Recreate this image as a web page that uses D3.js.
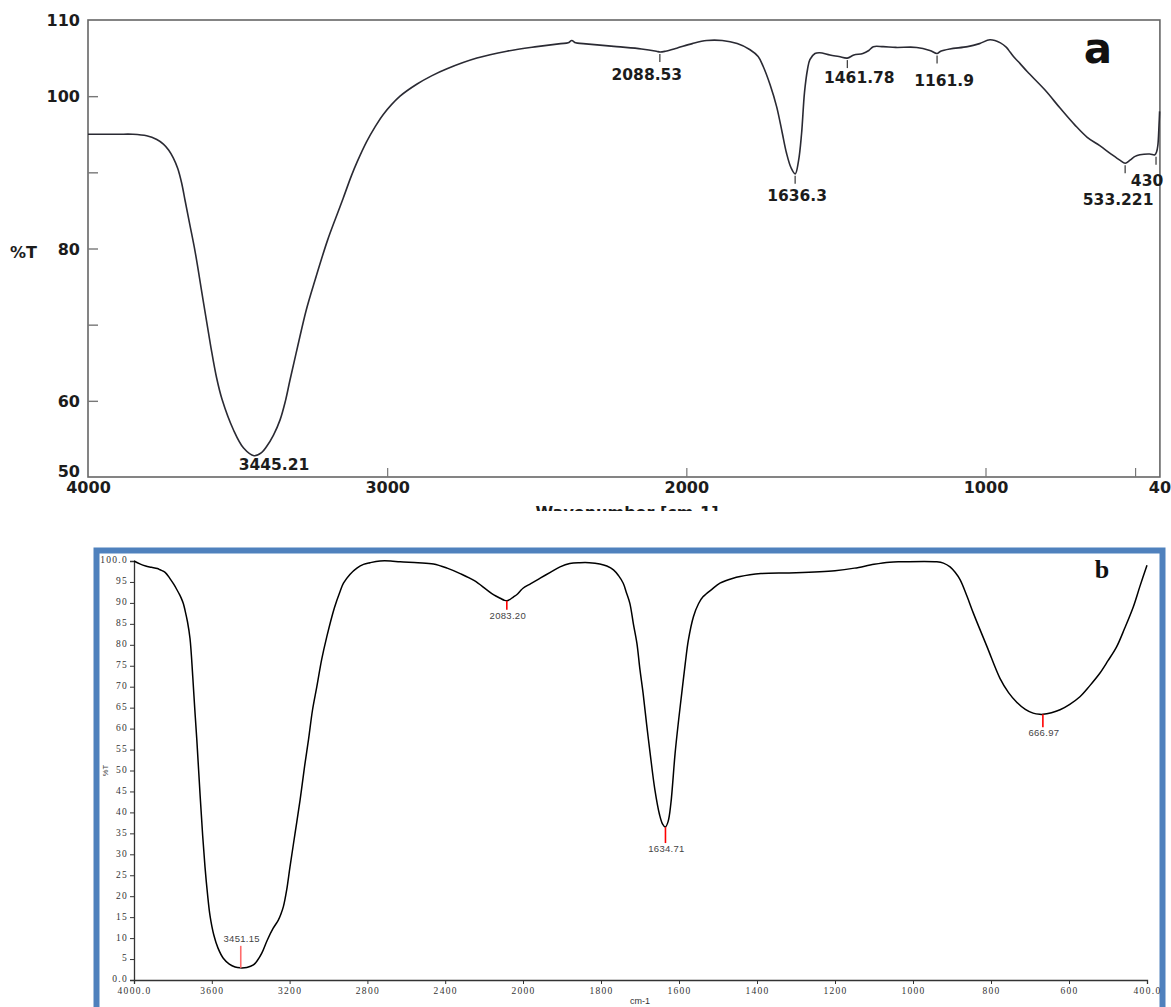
<!DOCTYPE html>
<html>
<head>
<meta charset="utf-8">
<script src="https://cdn.jsdelivr.net/npm/d3@7"></script>
<style>
  body { margin: 0; background: #fff; }
  svg { display: block; }
</style>
</head>
<body>
<svg id="chart"></svg>
<script>
// ---- panel a (scanned spectrum) ----
const waveA = [4000, 3900, 3850, 3804, 3770, 3748, 3730, 3715, 3700, 3687, 3675, 3660, 3642, 3616, 3589,
  3570, 3552, 3514, 3480, 3445, 3420, 3403, 3380, 3358, 3340, 3325, 3300, 3270, 3240, 3200, 3170, 3147,
  3120, 3100, 3069, 3040, 3013, 2957, 2900, 2850, 2800, 2700, 2600, 2500, 2420, 2395, 2383, 2370, 2345,
  2233, 2150, 2100, 2088, 2070, 2032, 1980, 1932, 1880, 1830, 1787, 1760, 1743, 1720, 1698, 1680, 1665,
  1650, 1636, 1625, 1615, 1605, 1595, 1587, 1570, 1554, 1520, 1490, 1462, 1440, 1410, 1390, 1375, 1342,
  1300, 1230, 1186, 1162, 1150, 1119, 1060, 1020, 985, 950, 930, 918, 902, 885, 860, 801, 750, 701, 660,
  618, 580, 551, 533, 517, 500, 484, 451, 434, 428, 424, 420, 418];
const transA = [95.0, 95.0, 95.0, 94.8, 94.3, 93.7, 92.9, 91.9, 90.5, 88.6, 86.2, 83.2, 79.6, 73.4, 67.0,
  63.0, 60.2, 56.2, 53.8, 52.8, 53.2, 54.0, 55.5, 57.5, 60.0, 62.7, 67.0, 72.0, 76.0, 81.0, 84.2, 86.6,
  89.5, 91.4, 94.0, 96.0, 97.6, 100.0, 101.6, 102.7, 103.6, 105.0, 105.9, 106.5, 106.9, 107.0, 107.3, 107.0, 106.9,
  106.5, 106.2, 105.9, 105.8, 105.9, 106.3, 106.9, 107.3, 107.3, 106.9, 106.1, 105.2, 103.9, 101.5, 98.6, 95.3, 92.5,
  90.6, 89.8, 91.5, 95.0, 100.5, 103.5, 104.8, 105.6, 105.7, 105.4, 105.2, 105.0, 105.4, 105.6, 106.0, 106.5, 106.5,
  106.4, 106.4, 106.0, 105.6, 105.9, 106.2, 106.5, 106.9, 107.4, 107.0, 106.4, 105.8, 105.0, 104.3, 103.2, 100.8, 98.4, 96.2, 94.6,
  93.5, 92.4, 91.6, 91.2, 91.6, 92.1, 92.3, 92.4, 92.3, 92.7, 93.5, 96.2, 98.0];

const peakWaveA = [3445.21, 2088.53, 1636.3, 1461.78, 1161.9, 533.221, 430];
const peakTransA = [52.8, 105.8, 89.8, 105.0, 105.6, 91.2, 92.3];

const xTicksA = [4000, 3000, 2000, 1000, 400];
const xMinorA = [3000, 2000, 1000, 500];
const yTicksA = [110, 100, 80, 60, 50];
const yMinorA = [100, 90, 80, 70, 60];

// ---- panel b (instrument printout) ----
const waveB = [4000, 3970, 3940, 3910, 3880, 3866, 3840, 3815, 3795, 3780, 3765, 3755, 3746, 3738, 3725,
  3712, 3698, 3688, 3677, 3660, 3647, 3635, 3622, 3609, 3590, 3568, 3541, 3510, 3480, 3455, 3420, 3386,
  3365, 3343, 3315, 3285, 3258, 3245, 3232, 3215, 3198, 3172, 3146, 3123, 3103, 3082, 3060, 3035, 3009,
  2970, 2940, 2923, 2890, 2854, 2820, 2786, 2735, 2680, 2632, 2540, 2460, 2390, 2323, 2250, 2186, 2150,
  2117, 2095, 2083, 2068, 2050, 2031, 2015, 2000, 1980, 1956, 1930, 1905, 1880, 1854, 1830, 1803, 1785,
  1768, 1755, 1743, 1735, 1726, 1717, 1708, 1700, 1692, 1683, 1674, 1662, 1650, 1642, 1635, 1628, 1621,
  1610, 1601, 1593, 1584, 1576, 1563, 1550, 1538, 1515, 1495, 1461, 1418, 1390, 1300, 1200, 1150, 1100,
  1060, 1033, 939, 922, 905, 892, 879, 862, 845, 810, 777, 755, 734, 712, 692, 675, 667, 645, 623, 598,
  572, 547, 521, 500, 478, 457, 435, 418, 400];
const transB = [100.0, 99.3, 98.8, 98.5, 98.2, 97.9, 97.3, 95.8, 94.4, 93.2, 91.9, 90.9, 89.8, 88.3, 85.5,
  81.5, 72.5, 65, 57.3, 44, 34.5, 27, 20.5, 15.3, 10.8, 7.6, 5.2, 3.8, 3.1, 2.9, 3.0, 3.6,
  4.7, 6.4, 9.5, 12.3, 14.3, 15.7, 17.5, 21.5, 27, 35, 43, 51, 57.3, 64.5, 70, 76.5, 81.9,
  88.8, 92.8, 94.7, 96.8, 98.3, 99.2, 99.6, 100.0, 100.0, 99.8, 99.6, 99.3, 98.3, 97.0, 95.3, 93.1, 91.9,
  91.1, 90.6, 90.5, 90.8, 91.4, 92.0, 92.8, 93.5, 94.6, 95.9, 97.3, 98.6, 99.4, 99.6, 99.6, 99.3, 98.8,
  97.9, 96.5, 94.7, 92.5, 89.9, 85, 80.4, 74, 68.4, 61, 54.1, 45.5, 39.5, 37.2, 36.5, 37.8, 42,
  54.1, 62, 68.4, 75.5, 81.1, 86.7, 89.8, 91.5, 93.3, 94.7, 95.9, 96.7, 97.0, 97.2, 97.7, 98.3, 99.2,
  99.7, 99.8, 99.8, 99.5, 98.6, 97.3, 95.5, 91.7, 87.5, 79.5, 72.0, 68.6, 66.3, 64.6, 63.7, 63.4, 63.4, 63.8, 64.5, 65.8,
  67.6, 70.2, 73.2, 76.2, 79.5, 84.0, 89.1, 94.0, 99.0];

const peakWaveB = [3451.15, 2083.20, 1634.71, 666.97];
const peakTransB = [2.9, 90.5, 36.5, 63.4];

const xTicksB = [4000, 3600, 3200, 2800, 2400, 2000, 1800, 1600, 1400, 1200, 1000, 800, 600, 400];
const yTicksB = [0, 5, 10, 15, 20, 25, 30, 35, 40, 45, 50, 55, 60, 65, 70, 75, 80, 85, 90, 95, 100];

// ---- canvas ----
const W = 1171, H = 1007;
const svg = d3.select("#chart").attr("width", W).attr("height", H);

// ================= panel a =================
const xA = d3.scaleLinear().domain([4000, 400]).range([88, 1165]);
const yA = d3.scaleLinear().domain([50, 110]).range([477, 20]);
const fontA = "'DejaVu Sans', sans-serif";
const inkA = "#2a2a33";

const gA = svg.append("g");

// frame
const frameRight = xA(417);
gA.append("rect")
  .attr("x", xA(4000)).attr("y", yA(110))
  .attr("width", frameRight - xA(4000)).attr("height", yA(50) - yA(110))
  .attr("fill", "none").attr("stroke", "#666").attr("stroke-width", 1.6);

// inward minor ticks
gA.append("g")
  .attr("transform", "translate(0," + yA(50) + ")")
  .call(d3.axisBottom(xA).tickValues(xMinorA).tickSize(-9).tickFormat(""))
  .call(g => g.select(".domain").remove())
  .selectAll("line").attr("stroke", "#777").attr("stroke-width", 1.2);

gA.append("g")
  .attr("transform", "translate(" + xA(4000) + ",0)")
  .call(d3.axisLeft(yA).tickValues(yMinorA).tickSize(-10).tickFormat(""))
  .call(g => g.select(".domain").remove())
  .selectAll("line").attr("stroke", "#777").attr("stroke-width", 1.4);

// tick labels
gA.append("g")
  .attr("transform", "translate(0," + yA(50) + ")")
  .call(d3.axisBottom(xA).tickValues(xTicksA).tickSize(0).tickPadding(5).tickFormat(d3.format("d")))
  .call(g => g.select(".domain").remove())
  .selectAll("text")
  .attr("font-family", fontA).attr("font-weight", "bold").attr("font-size", 16).attr("fill", "#1c1c1c");

gA.append("g")
  .attr("transform", "translate(" + xA(4000) + ",0)")
  .call(d3.axisLeft(yA).tickValues(yTicksA).tickSize(0).tickPadding(8))
  .call(g => g.select(".domain").remove())
  .selectAll("text")
  .attr("font-family", fontA).attr("font-weight", "bold").attr("font-size", 16).attr("fill", "#1c1c1c")
  .attr("dy", d => d === 50 ? "-0.05em" : "0.35em");

// %T
gA.append("text")
  .attr("x", 10).attr("y", yA(80) + 9)
  .attr("font-family", fontA).attr("font-weight", "bold").attr("font-size", 16).attr("fill", "#1c1c1c")
  .text("%T");

// cut-off axis title
svg.append("clipPath").attr("id", "cutA")
  .append("rect").attr("x", 0).attr("y", 0).attr("width", W).attr("height", 511);
gA.append("text")
  .attr("clip-path", "url(#cutA)")
  .attr("x", 627).attr("y", 518)
  .attr("text-anchor", "middle")
  .attr("font-family", fontA).attr("font-weight", "bold").attr("font-size", 16).attr("fill", "#1c1c1c")
  .text("Wavenumber [cm-1]");

// spectrum
const lineA = d3.line()
  .x(i => xA(waveA[i]))
  .y(i => yA(transA[i]))
  .curve(d3.curveCatmullRom.alpha(0.5));
gA.append("path")
  .attr("d", lineA(d3.range(waveA.length)))
  .attr("fill", "none").attr("stroke", inkA).attr("stroke-width", 1.6);

// peak marks + labels
const offA = [[20, 14], [-13, 28], [2, 27], [12, 25], [7, 32], [-7, 42], [-9, 31]];
peakWaveA.forEach((w, i) => {
  const px = xA(w), py = yA(peakTransA[i]);
  if (i > 0) {
    gA.append("line")
      .attr("x1", px).attr("x2", px).attr("y1", py + 2).attr("y2", py + 10)
      .attr("stroke", "#444").attr("stroke-width", 1.3);
  }
  gA.append("text")
    .attr("x", px + offA[i][0]).attr("y", py + offA[i][1])
    .attr("text-anchor", "middle")
    .attr("font-family", fontA).attr("font-weight", "bold").attr("font-size", 15.5).attr("fill", "#1c1c1c")
    .text(String(w));
});

gA.append("text")
  .attr("x", 1098).attr("y", 63)
  .attr("text-anchor", "middle")
  .attr("font-family", fontA).attr("font-weight", "bold").attr("font-size", 42).attr("fill", "#111")
  .text("a");

// ================= panel b =================
const xB = d3.scaleLinear().domain([4000, 2000, 400]).range([134, 523, 1147]);
const yB = d3.scaleLinear().domain([0, 100]).range([980, 561]);
const serifB = "'Liberation Serif', 'DejaVu Serif', serif";
const sansB = "'Liberation Sans', Arial, sans-serif";

const gB = svg.append("g");

// blue box
gB.append("rect")
  .attr("x", 96.5).attr("y", 550.5)
  .attr("width", 1066).attr("height", 500)
  .attr("fill", "none").attr("stroke", "#4f81bd").attr("stroke-width", 6);

// axes
const axB = gB.append("g")
  .attr("transform", "translate(0," + yB(0) + ")")
  .call(d3.axisBottom(xB).tickValues(xTicksB).tickSize(4).tickPadding(3)
    .tickFormat(d => (d === 4000 || d === 400) ? d.toFixed(1) : String(d)));
axB.select(".domain").attr("stroke", "#333").attr("stroke-width", 1.3);
axB.selectAll("line").attr("stroke", "#333");
axB.selectAll("text")
  .attr("font-family", serifB).attr("font-size", 9.5).attr("fill", "#333")
  .attr("letter-spacing", "1.3px");

const ayB = gB.append("g")
  .attr("transform", "translate(" + xB(4000) + ",0)")
  .call(d3.axisLeft(yB).tickValues(yTicksB).tickSize(4).tickPadding(2)
    .tickFormat(d => (d === 0 || d === 100) ? d.toFixed(1) : String(d)));
ayB.select(".domain").attr("stroke", "#333").attr("stroke-width", 1.3);
ayB.selectAll("line").attr("stroke", "#333");
ayB.selectAll("text")
  .attr("font-family", serifB).attr("font-size", 9.5).attr("fill", "#333")
  .attr("letter-spacing", "1.3px").attr("dy", "0.2em");

gB.append("text")
  .attr("x", 640).attr("y", 1004)
  .attr("text-anchor", "middle")
  .attr("font-family", sansB).attr("font-size", 9).attr("fill", "#333")
  .text("cm-1");

gB.append("text")
  .attr("transform", "translate(108," + yB(50) + ") rotate(-90)")
  .attr("text-anchor", "middle")
  .attr("font-family", sansB).attr("font-size", 7.5).attr("fill", "#444")
  .text("%T");

// spectrum
const lineB = d3.line()
  .x(i => xB(waveB[i]))
  .y(i => yB(transB[i]))
  .curve(d3.curveCatmullRom.alpha(0.5));
gB.append("path")
  .attr("d", lineB(d3.range(waveB.length)))
  .attr("fill", "none").attr("stroke", "#000").attr("stroke-width", 1.5);

// peak stems + labels
const stemB = [-22, 9, 16, 13];
peakWaveB.forEach((w, i) => {
  const px = xB(w), py = yB(peakTransB[i]);
  const s = stemB[i];
  gB.append("line")
    .attr("x1", px).attr("x2", px).attr("y1", py).attr("y2", py + s)
    .attr("stroke", i === 0 ? "#ff6b6b" : "#f00").attr("stroke-width", 1.6);
  gB.append("text")
    .attr("x", px + 1).attr("y", s < 0 ? py + s - 4 : py + s + 9)
    .attr("text-anchor", "middle")
    .attr("font-family", sansB).attr("font-size", 9.5).attr("fill", "#444")
    .attr("letter-spacing", "0.3px")
    .text(w.toFixed(2));
});

gB.append("text")
  .attr("x", 1102).attr("y", 578)
  .attr("text-anchor", "middle")
  .attr("font-family", serifB).attr("font-weight", "bold").attr("font-size", 26).attr("fill", "#111")
  .text("b");
</script>
</body>
</html>
